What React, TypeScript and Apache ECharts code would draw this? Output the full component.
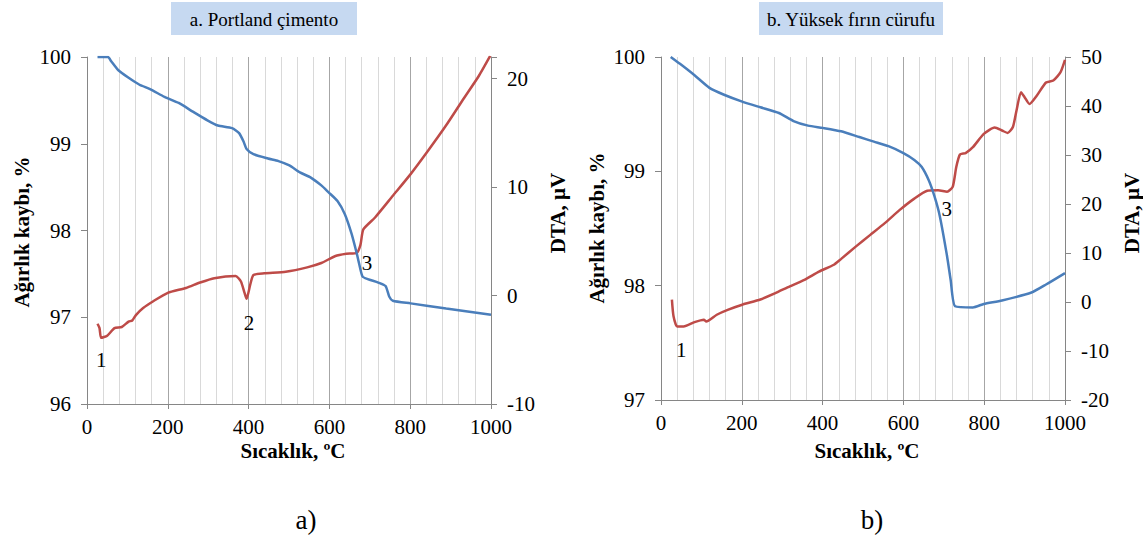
import React, { useEffect, useRef } from "react";
import * as echarts from "echarts";

// ---- Data ----
const xTicksMax = 1000;

// a. Portland çimento — weight (%) vs temperature
const tgA: [number, number][] = [
  [26, 100], [52, 100], [60, 99.95], [77, 99.85], [103, 99.76], [130, 99.68], [156, 99.63],
  [192, 99.54], [227, 99.47], [262, 99.37], [298, 99.27], [324, 99.21], [359, 99.18],
  [377, 99.12], [388, 99.02], [395, 98.94], [412, 98.88], [448, 98.83], [474, 98.8],
  [501, 98.75], [527, 98.67], [554, 98.61], [580, 98.52], [598, 98.44], [620, 98.34],
  [638, 98.19], [655, 97.96], [668, 97.73], [673, 97.63], [682, 97.47], [695, 97.44],
  [721, 97.4], [739, 97.36], [748, 97.24], [757, 97.19], [801, 97.16], [889, 97.1], [1000, 97.03],
];
// a. Portland çimento — DTA (µV)
const dtaA: [number, number][] = [
  [26, -2.6], [31, -3.0], [35, -3.9], [50, -3.7], [68, -3.0], [86, -2.9], [103, -2.4],
  [112, -2.3], [121, -1.8], [139, -1.15], [165, -0.5], [200, 0.25], [245, 0.7], [280, 1.2],
  [315, 1.6], [368, 1.8], [381, 1.3], [390, 0.25], [395, -0.3], [404, 1.0], [412, 1.9],
  [439, 2.05], [492, 2.2], [545, 2.6], [580, 3.0], [615, 3.65], [642, 3.85], [668, 3.95],
  [677, 4.7], [684, 6.1], [713, 7.2], [757, 9.2], [801, 11.2], [845, 13.4], [889, 15.7],
  [933, 18.2], [969, 20.2], [998, 22.1],
];
// b. Yüksek fırın cürufu — weight (%)
const tgB: [number, number][] = [
  [24, 100], [47, 99.94], [83, 99.84], [120, 99.73], [156, 99.67], [201, 99.61], [246, 99.56],
  [292, 99.51], [328, 99.44], [364, 99.4], [400, 99.38], [446, 99.35], [491, 99.3],
  [527, 99.26], [563, 99.22], [600, 99.16], [627, 99.1], [645, 99.04], [663, 98.92],
  [677, 98.78], [690, 98.61], [708, 98.26], [717, 98.05], [728, 97.82], [772, 97.81],
  [799, 97.84], [844, 97.87], [917, 97.94], [953, 98.01], [1000, 98.11],
];
// b. Yüksek fırın cürufu — DTA (µV)
const dtaB: [number, number][] = [
  [27, 0.5], [31, -2.9], [40, -5.0], [56, -5.0], [83, -4.1], [106, -3.6], [112, -4.0],
  [138, -2.6], [165, -1.6], [201, -0.55], [246, 0.5], [283, 1.8], [319, 3.2], [355, 4.5],
  [391, 6.2], [428, 7.6], [446, 8.8], [482, 11.3], [518, 13.7], [554, 16.1], [591, 18.8],
  [627, 21.1], [659, 22.7], [686, 22.8], [708, 22.5], [722, 23.5], [731, 27.6], [740, 30.1],
  [754, 30.4], [772, 31.6], [799, 34.3], [826, 35.6], [844, 35.0], [858, 34.5], [871, 35.7],
  [880, 39.1], [891, 42.8], [900, 41.8], [912, 40.4], [930, 42.1], [953, 44.8], [971, 45.2],
  [989, 46.9], [1000, 49.4],
];

// peak annotations [T, DTA, label]
const peaksA: [number, number, string][] = [
  [35, -5.9, "1"],
  [401, -2.5, "2"],
  [693, 3.0, "3"],
];
const peaksB: [number, number, string][] = [
  [50, -9.8, "1"],
  [707, 18.9, "3"],
];

const titles = ["a. Portland çimento", "b. Yüksek fırın cürufu"];
const panelLabels = ["a)", "b)"];
const xName = "Sıcaklık, ºC";
const yLeftName = "Ağırlık kaybı, %";
const yRightName = "DTA, µV";

const FONT = "'Liberation Serif', serif";
const AXIS = "#868686";
const BLUE = "#4A7EBB";
const RED = "#BE4B48";

function xAxisCfg(gridIndex: number) {
  return {
    type: "value",
    gridIndex,
    min: 0,
    max: xTicksMax,
    interval: 200,
    axisLine: { show: true, onZero: false, lineStyle: { color: AXIS, width: 1 } },
    axisTick: { show: true, length: 5, lineStyle: { color: AXIS } },
    axisLabel: {
      fontFamily: FONT,
      fontSize: 21,
      color: "#000",
      margin: 12,
      formatter: (v: number) => String(v),
    },
    splitLine: { show: true, lineStyle: { color: "#a6a6a6", width: 1 } },
    minorTick: { show: false, splitNumber: 5 },
    minorSplitLine: { show: true, lineStyle: { color: "#d9d9d9", width: 1 } },
  };
}

function yAxisCfg(gridIndex: number, pos: "left" | "right", min: number, max: number, interval: number) {
  return {
    type: "value",
    gridIndex,
    position: pos,
    min,
    max,
    interval,
    axisLine: { show: true, onZero: false, lineStyle: { color: AXIS, width: 1 } },
    axisTick: { show: true, length: 6, lineStyle: { color: AXIS } },
    axisLabel: {
      fontFamily: FONT,
      fontSize: 21,
      color: "#000",
      margin: 16,
      formatter: (v: number) => (Math.abs(v % interval) > 1e-9 ? "" : String(v)),
    },
    splitLine: { show: false },
  };
}

function peakMark(peaks: [number, number, string][]) {
  return {
    symbol: "circle",
    symbolSize: 1,
    itemStyle: { color: "rgba(0,0,0,0)" },
    label: {
      show: true,
      position: "inside",
      fontFamily: FONT,
      fontSize: 21,
      color: "#000",
      formatter: (p: any) => p.name,
    },
    data: peaks.map((p) => ({ name: p[2], coord: [p[0], p[1]] })),
  };
}

function lineSeries(data: [number, number][], xi: number, yi: number, color: string, mark?: any) {
  return {
    type: "line",
    xAxisIndex: xi,
    yAxisIndex: yi,
    data,
    showSymbol: false,
    symbol: "none",
    smooth: 0.2,
    lineStyle: { color, width: 2.5 },
    itemStyle: { color },
    markPoint: mark,
    z: color === RED ? 3 : 4,
  };
}

function titleBox(cx: number, w: number, text: string) {
  return {
    type: "group",
    children: [
      { type: "rect", shape: { x: cx - w / 2, y: 2, width: w, height: 33 }, style: { fill: "#C6D9F1" } },
      {
        type: "text",
        x: cx,
        y: 19,
        style: { text, fontFamily: FONT, fontSize: 19, fill: "#000", textAlign: "center", textVerticalAlign: "middle" },
      },
    ],
  };
}

function vText(x: number, y: number, text: string) {
  return {
    type: "text",
    x,
    y,
    rotation: Math.PI / 2,
    style: {
      text,
      fontFamily: FONT,
      fontSize: 21,
      fontWeight: "bold",
      fill: "#000",
      textAlign: "center",
      textVerticalAlign: "middle",
    },
  };
}

function hText(x: number, y: number, text: string, size: number, bold: boolean) {
  return {
    type: "text",
    x,
    y,
    style: {
      text,
      fontFamily: FONT,
      fontSize: size,
      fontWeight: bold ? "bold" : "normal",
      fill: "#000",
      textAlign: "center",
      textVerticalAlign: "middle",
    },
  };
}

export default function App() {
  const ref = useRef<HTMLDivElement>(null);
  useEffect(() => {
    if (!ref.current) return;
    const chart = echarts.init(ref.current, undefined, { renderer: "svg" });
    chart.setOption({
      animation: false,
      backgroundColor: "#fff",
      textStyle: { fontFamily: FONT },
      grid: [
        { left: 87, right: 652, top: 57, bottom: 135 },
        { left: 661, right: 78, top: 57, bottom: 139 },
      ],
      xAxis: [xAxisCfg(0), xAxisCfg(1)],
      yAxis: [
        yAxisCfg(0, "left", 96, 100, 1),
        yAxisCfg(0, "right", -10, 22, 10),
        yAxisCfg(1, "left", 97, 100, 1),
        yAxisCfg(1, "right", -20, 50, 10),
      ],
      series: [
        lineSeries(dtaA, 0, 1, RED, peakMark(peaksA)),
        lineSeries(tgA, 0, 0, BLUE),
        lineSeries(dtaB, 1, 3, RED, peakMark(peaksB)),
        lineSeries(tgB, 1, 2, BLUE),
      ],
      graphic: [
        titleBox(264, 186, titles[0]),
        titleBox(851, 184, titles[1]),
        vText(22, 232, yLeftName),
        vText(597, 228, yLeftName),
        vText(558, 213, yRightName),
        vText(1132, 213, yRightName),
        hText(293, 451, xName, 21, true),
        hText(867, 451, xName, 21, true),
        hText(306, 520, panelLabels[0], 27, false),
        hText(872, 520, panelLabels[1], 27, false),
      ],
    });
    return () => chart.dispose();
  }, []);
  return (
    <div
      ref={ref}
      style={{ position: "fixed", left: 0, top: 0, width: 1143, height: 539, background: "#fff" }}
    />
  );
}
